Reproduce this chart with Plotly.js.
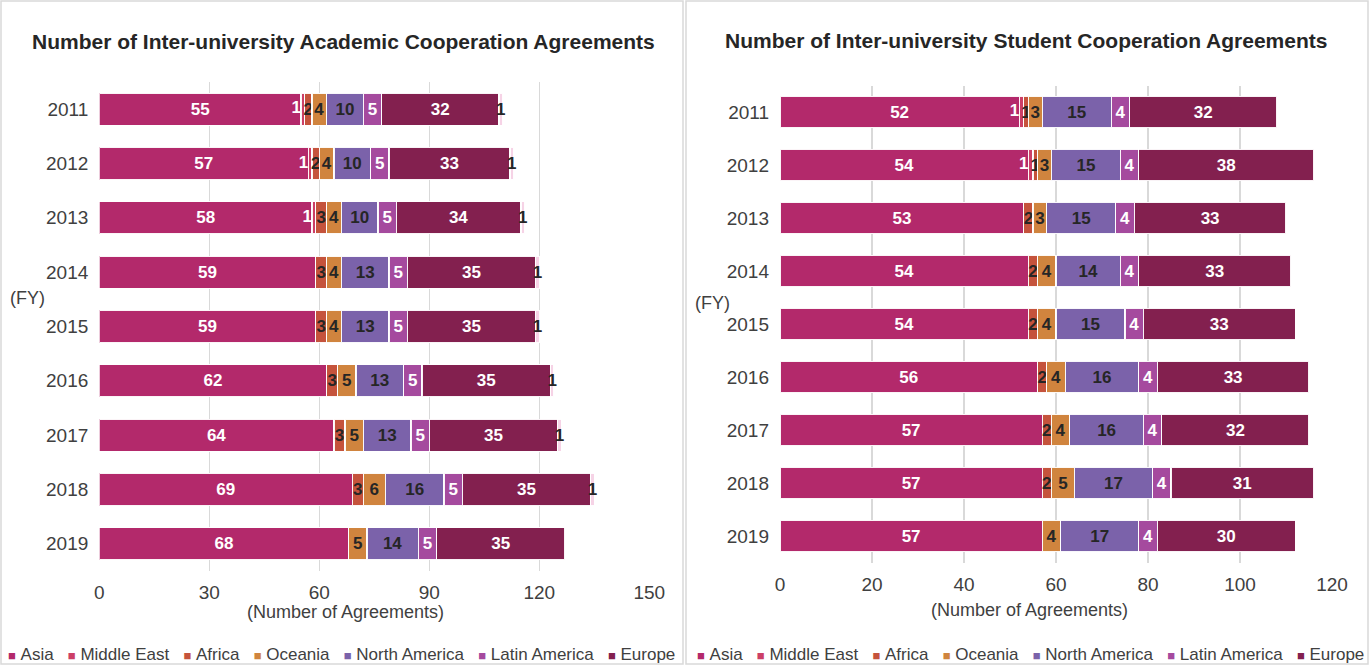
<!DOCTYPE html>
<html>
<head>
<meta charset="utf-8">
<script src="https://cdn.plot.ly/plotly-3.0.1.min.js"></script>
<style>
html,body{margin:0;padding:0;background:#fff;}
#chart{width:1370px;height:665px;}
</style>
</head>
<body>
<div id="chart"></div>
<script>
// ---------- data ----------
const years = ['2011','2012','2013','2014','2015','2016','2017','2018','2019'];
const regions = ['Asia','Middle East','Africa','Oceania','North America','Latin America','Europe'];
const regionColors = ['#b3296b','#cc3f66','#c5533c','#d0843e','#7b62aa','#a54a9e','#83204f'];

// Inter-university Academic Cooperation Agreements
const acadAsia          = [55,57,58,59,59,62,64,69,68];
const acadMiddleEast    = [1,1,1,0,0,0,0,0,0];
const acadAfrica        = [2,2,3,3,3,3,3,3,0];
const acadOceania       = [4,4,4,4,4,5,5,6,5];
const acadNorthAmerica  = [10,10,10,13,13,13,13,16,14];
const acadLatinAmerica  = [5,5,5,5,5,5,5,5,5];
const acadEurope        = [32,33,34,35,35,35,35,35,35];
const acadOther         = [1,1,1,1,1,1,1,1,0];

// Inter-university Student Cooperation Agreements
const studAsia          = [52,54,53,54,54,56,57,57,57];
const studMiddleEast    = [1,1,0,0,0,0,0,0,0];
const studAfrica        = [1,1,2,2,2,2,2,2,0];
const studOceania       = [3,3,3,4,4,4,4,5,4];
const studNorthAmerica  = [15,15,15,14,15,16,16,17,17];
const studLatinAmerica  = [4,4,4,4,4,4,4,4,4];
const studEurope        = [32,38,33,33,33,33,32,31,30];

const titles = ['Number of Inter-university Academic Cooperation Agreements',
                'Number of Inter-university Student Cooperation Agreements'];
const xTitle = '(Number of Agreements)';
const yTitle = '(FY)';

// ---------- build ----------
const FONT = '"Liberation Sans", Arial, sans-serif';
const W = 1370, H = 665;
const px = x => x / W;
const py = y => 1 - y / H;
const labelColors = ['#ffffff','#ffffff','#262626','#262626','#262626','#ffffff','#ffffff'];

function makeTrace(name, vals, color, txtColor, showText, xa, ya) {
  return {
    type: 'bar', orientation: 'h', name: name,
    y: years, x: vals.map(v => v === 0 ? null : v),
    text: vals.map(v => (v === 0 || !showText) ? '' : String(v)),
    textposition: 'inside', insidetextanchor: 'middle',
    constraintext: 'none', textangle: 0,
    textfont: {family: FONT, size: 17, color: txtColor, weight: 'bold'},
    marker: {color: color, line: {color: 'rgba(255,255,255,0.95)', width: 1.2}},
    xaxis: xa, yaxis: ya, showlegend: false, hoverinfo: 'x+name'
  };
}

// label for the thin Middle East segment, placed just left of its start
function meLabel(asia, me, xa, ya) {
  return {
    type: 'scatter', mode: 'text', y: years,
    x: me.map((v, i) => v === 0 ? null : asia[i]),
    text: me.map(v => v === 0 ? '' : String(v)),
    textposition: 'middle left',
    textfont: {family: FONT, size: 17, color: '#ffffff', weight: 'bold'},
    xaxis: xa, yaxis: ya, showlegend: false, hoverinfo: 'skip'
  };
}

const acadSeries = [acadAsia, acadMiddleEast, acadAfrica, acadOceania, acadNorthAmerica, acadLatinAmerica, acadEurope];
const studSeries = [studAsia, studMiddleEast, studAfrica, studOceania, studNorthAmerica, studLatinAmerica, studEurope];

const traces = [];
acadSeries.forEach((s, i) => traces.push(makeTrace(regions[i], s, regionColors[i], labelColors[i], i !== 1, 'x', 'y')));
traces.push(makeTrace('Other', acadOther, '#f6d3e6', '#262626', true, 'x', 'y'));
studSeries.forEach((s, i) => traces.push(makeTrace(regions[i], s, regionColors[i], labelColors[i], i !== 1, 'x2', 'y2')));
traces.push(meLabel(acadAsia, acadMiddleEast, 'x', 'y'));
traces.push(meLabel(studAsia, studMiddleEast, 'x2', 'y2'));

const legendText = regions.map((r, i) =>
  '<span style="color:' + regionColors[i] + ';font-size:13px">\u25A0</span>\u00a0' + r).join('\u00a0\u00a0\u00a0');

const axisTick = {family: FONT, size: 19, color: '#404040'};

const layout = {
  width: W, height: H,
  margin: {l: 0, r: 0, t: 0, b: 0},
  paper_bgcolor: '#ffffff', plot_bgcolor: '#ffffff',
  barmode: 'stack', bargap: 0.41,
  font: {family: FONT, color: '#404040'},
  showlegend: false,
  xaxis: {domain: [px(99.3), px(649.3)], range: [0, 150], dtick: 30, anchor: 'y',
          showgrid: true, gridcolor: '#d9d9d9', gridwidth: 1.5, zeroline: false,
          showline: false, ticks: '', tickfont: axisTick, ticklabelstandoff: 8, fixedrange: true},
  yaxis: {domain: [py(571), py(82)], autorange: 'reversed', type: 'category', anchor: 'x',
          showgrid: false, zeroline: false, showline: false, ticks: '',
          tickfont: axisTick, ticklabelstandoff: 10, fixedrange: true},
  xaxis2: {domain: [px(780), px(1332)], range: [0, 120], dtick: 20, anchor: 'y2',
          showgrid: true, gridcolor: '#d9d9d9', gridwidth: 1.5, zeroline: false,
          showline: false, ticks: '', tickfont: axisTick, ticklabelstandoff: 8, fixedrange: true},
  yaxis2: {domain: [py(562.5), py(85.5)], autorange: 'reversed', type: 'category', anchor: 'x2',
          showgrid: false, zeroline: false, showline: false, ticks: '',
          tickfont: axisTick, ticklabelstandoff: 10, fixedrange: true},
  shapes: [
    {type: 'rect', xref: 'paper', yref: 'paper', x0: px(1), x1: px(683), y0: py(664), y1: py(1),
     line: {color: '#d9d9d9', width: 1.5}, fillcolor: 'rgba(0,0,0,0)', layer: 'below'},
    {type: 'rect', xref: 'paper', yref: 'paper', x0: px(686), x1: px(1368), y0: py(664), y1: py(1),
     line: {color: '#d9d9d9', width: 1.5}, fillcolor: 'rgba(0,0,0,0)', layer: 'below'}
  ],
  annotations: [
    {text: '<b>' + titles[0] + '</b>', xref: 'paper', yref: 'paper', x: px(343), y: py(42),
     xanchor: 'center', yanchor: 'middle', showarrow: false, font: {family: FONT, size: 21, color: '#262626'}},
    {text: '<b>' + titles[1] + '</b>', xref: 'paper', yref: 'paper', x: px(1026), y: py(40),
     xanchor: 'center', yanchor: 'middle', showarrow: false, font: {family: FONT, size: 21, color: '#262626'}},
    {text: xTitle, xref: 'paper', yref: 'paper', x: px(345), y: py(612),
     xanchor: 'center', yanchor: 'middle', showarrow: false, font: {family: FONT, size: 18, color: '#404040'}},
    {text: xTitle, xref: 'paper', yref: 'paper', x: px(1029), y: py(610),
     xanchor: 'center', yanchor: 'middle', showarrow: false, font: {family: FONT, size: 18, color: '#404040'}},
    {text: yTitle, xref: 'paper', yref: 'paper', x: px(27), y: py(298),
     xanchor: 'center', yanchor: 'middle', showarrow: false, font: {family: FONT, size: 18, color: '#404040'}},
    {text: yTitle, xref: 'paper', yref: 'paper', x: px(712), y: py(303),
     xanchor: 'center', yanchor: 'middle', showarrow: false, font: {family: FONT, size: 18, color: '#404040'}},
    {text: legendText, xref: 'paper', yref: 'paper', x: px(341), y: py(654),
     xanchor: 'center', yanchor: 'middle', showarrow: false, font: {family: FONT, size: 17, color: '#404040'}},
    {text: legendText, xref: 'paper', yref: 'paper', x: px(1030), y: py(654),
     xanchor: 'center', yanchor: 'middle', showarrow: false, font: {family: FONT, size: 17, color: '#404040'}}
  ]
};

Plotly.newPlot('chart', traces, layout, {displayModeBar: false, staticPlot: true});
</script>
</body>
</html>
